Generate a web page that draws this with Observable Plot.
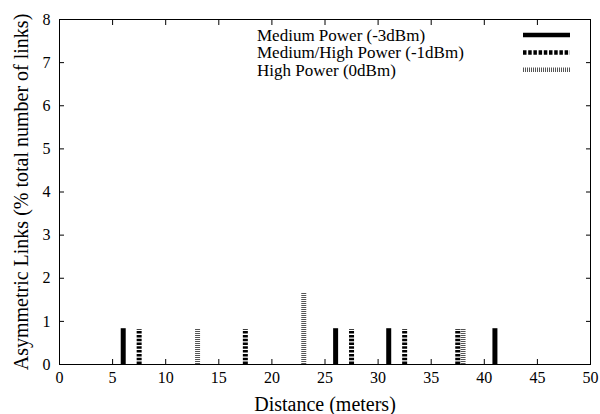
<!DOCTYPE html>
<html><head><meta charset="utf-8">
<script src="https://cdn.jsdelivr.net/npm/d3@7"></script>
<script src="https://cdn.jsdelivr.net/npm/@observablehq/plot@0.6"></script>
<style>body{margin:0;background:#fff}svg{font-family:"Liberation Serif","Times New Roman",serif}</style>
</head><body><div id="chart"></div>
<script>
const series = ["Medium Power (-3dBm)", "Medium/High Power (-1dBm)", "High Power (0dBm)"];
const mediumX = [6, 26, 31, 41];
const mediumY = [0.83, 0.83, 0.83, 0.83];
const medHighX = [7.5, 17.5, 27.5, 32.5, 37.5];
const medHighY = [0.81, 0.81, 0.81, 0.81, 0.81];
const highX = [13, 23, 38];
const highY = [0.81, 1.67, 0.81];
const xTicks = [0, 5, 10, 15, 20, 25, 30, 35, 40, 45, 50];
const yTicks = [0, 1, 2, 3, 4, 5, 6, 7, 8];

const styles = [
  {stroke: "#000", dash: null, legendDash: null},
  {stroke: "#000", dash: "2.5,1.3", legendDash: "3.5,1.7"},
  {stroke: "#555", dash: "1,1", legendDash: "1,1"}
];
const data = [
  ...mediumX.map((x, i) => ({x, y: mediumY[i], s: 0})),
  ...medHighX.map((x, i) => ({x, y: medHighY[i], s: 1})),
  ...highX.map((x, i) => ({x, y: highY[i], s: 2}))
];

const bars = styles.map((st, k) => Plot.ruleX(data.filter(d => d.s === k), {
  x: "x", y1: 0, y2: "y", stroke: st.stroke, strokeWidth: 5, strokeDasharray: st.dash
}));

const chart = Plot.plot({
  width: 600, height: 414,
  marginLeft: 59, marginRight: 10, marginTop: 19, marginBottom: 50,
  style: {fontFamily: "Liberation Serif, serif", fontSize: "16px", color: "#000", background: "#fff"},
  x: {domain: [0, 50]},
  y: {domain: [0, 8]},
  marks: [
    ...bars,
    Plot.frame({stroke: "#000", strokeWidth: 1}),
    Plot.axisX({anchor: "bottom", ticks: xTicks, tickSize: 0, tickPadding: 7, tickFormat: d => d,
      fontSize: 16, label: "Distance (meters)", labelAnchor: "center", labelArrow: "none", labelOffset: 46}),
    Plot.axisX({anchor: "bottom", ticks: xTicks, tickSize: -5, text: null, label: null}),
    Plot.axisX({anchor: "top", ticks: xTicks, tickSize: -5, text: null, label: null}),
    Plot.axisY({anchor: "left", ticks: yTicks, tickSize: 0, tickPadding: 9, tickFormat: d => d,
      fontSize: 16, label: "Asymmetric Links (% total number of links)", labelAnchor: "center", labelArrow: "none", labelOffset: 46}),
    Plot.axisY({anchor: "left", ticks: yTicks, tickSize: -5, text: null, label: null}),
    Plot.axisY({anchor: "right", ticks: yTicks, tickSize: -5, text: null, label: null})
  ]
});
document.getElementById("chart").appendChild(chart);

d3.select(chart).selectAll("g[aria-label='x-axis label'] text, g[aria-label='y-axis label'] text").style("font-size", "20px");

// legend inside the plot
const svg = d3.select(chart);
const leg = svg.append("g").attr("class", "legend");
series.forEach((name, i) => {
  const y = 35 + i * 17.4;
  leg.append("text").attr("x", 257).attr("y", y).attr("dy", "0.35em")
    .attr("text-anchor", "start")
    .style("font-size", "17px").attr("fill", "#000").text(name);
  leg.append("line").attr("x1", 523).attr("x2", 570).attr("y1", y).attr("y2", y)
    .attr("stroke", styles[i].stroke).attr("stroke-width", 4.5)
    .attr("stroke-dasharray", styles[i].legendDash);
});
</script></body></html>
